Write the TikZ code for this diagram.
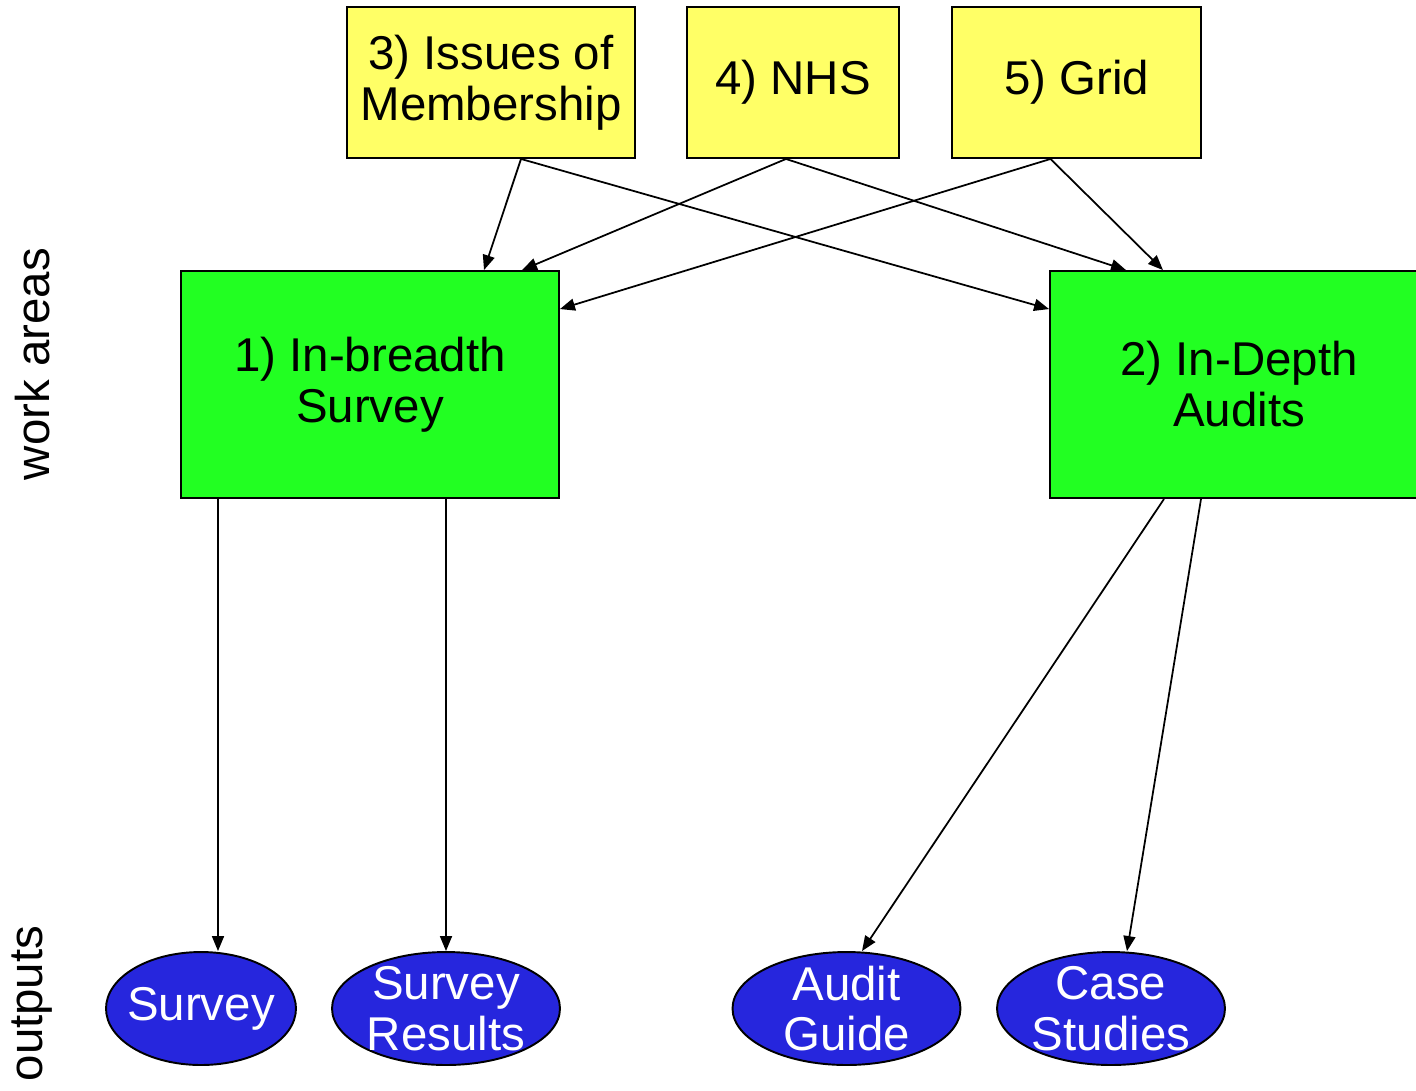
\documentclass[tikz,border=0pt]{standalone}
\usepackage{fontspec}
\setmainfont{Liberation Sans}
\usetikzlibrary{arrows.meta,calc,shapes.geometric}
\definecolor{topicyellow}{RGB}{255,255,102}
\definecolor{areagreen}{RGB}{34,255,34}
\definecolor{outblue}{RGB}{38,38,221}
\begin{document}
\begin{tikzpicture}[x=0.02cm, y=-0.02cm, font=\fontsize{27}{29}\selectfont,
    >={Triangle[length=3mm, width=2.4mm]},
    topic/.style = {draw, line width=1.1pt, fill=topicyellow, align=center, minimum height=3.02cm, inner sep=0pt},
    area/.style = {draw, line width=1.1pt, fill=areagreen, align=center, minimum width=7.56cm, minimum height=4.54cm, inner sep=0pt},
    output/.style = {draw, ellipse, line width=1.1pt, fill=outblue, minimum height=2.26cm, inner sep=0pt},
    outtext/.style = {text=white, align=center, inner sep=0pt},
    link/.style = {->, line width=1pt}]
    \useasboundingbox (0,0) rectangle (1416,1090);

    % topics feeding the work areas
    \node[topic, minimum width=5.76cm] (3) at (491,82.5) {3) Issues of\\Membership};
    \node[topic, minimum width=4.24cm] (4) at (793,82.5) {4) NHS};
    \node[topic, minimum width=4.98cm] (5) at (1076.5,82.5) {5) Grid};

    % work areas
    \node[area] (1) at (370,384.5) {1) In-breadth\\Survey};
    \node[area] (2) at (1239,384.5) {2) In-Depth\\Audits};

    % outputs
    \node[output, minimum width=3.8cm, label={[outtext]center:Survey}] (survey) at (201,1008.5) {};
    \node[output, minimum width=4.56cm, label={[outtext]center:{Survey\\Results}}] (results) at (446,1008.5) {};
    \node[output, minimum width=4.56cm, label={[outtext]center:{Audit\\Guide}}] (guide) at (846.5,1008.5) {};
    \node[output, minimum width=4.56cm, label={[outtext]center:{Case\\Studies}}] (studies) at (1111,1008.5) {};

    \node[rotate=90, anchor=base] (work) at (50,364) {work areas};
    \node[rotate=90, anchor=base] (outs) at (42,1003.5) {outputs};

    \draw[link] ($(3.south)+(30,0)$) -- ($(1.north)+(114,0)$);
    \draw[link] ($(3.south)+(30,0)$) -- ($(2.north west)+(0,39)$);
    \draw[link] ($(4.south)+(-7,0)$) -- ($(1.north)+(152,0)$);
    \draw[link] ($(4.south)+(-7,0)$) -- ($(2.north)+(-113,0)$);
    \draw[link] ($(5.south)+(-26,0)$) -- ($(1.north east)+(0,39)$);
    \draw[link] ($(5.south)+(-26,0)$) -- ($(2.north)+(-76,0)$);

    \draw[link] ($(1.south)+(-152,0)$) -- ($(survey.north)+(17,0)$);
    \draw[link] ($(1.south)+(76,0)$) -- (results.north);
    \draw[link] ($(2.south)+(-75,0)$) -- ($(guide.north)+(15.5,0)$);
    \draw[link] ($(2.south)+(-38,0)$) -- ($(studies.north)+(16,0)$);
\end{tikzpicture}
\end{document}
